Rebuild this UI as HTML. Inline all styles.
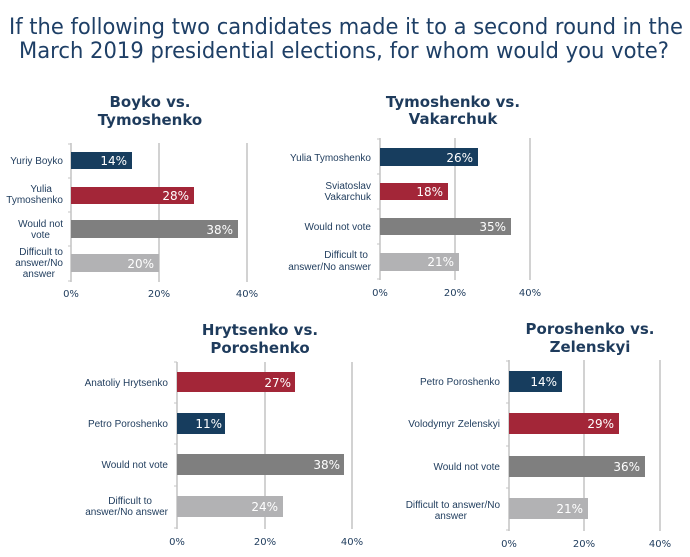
<!DOCTYPE html>
<html><head><meta charset="utf-8"><style>
html,body{margin:0;padding:0;background:#fff;}
svg{display:block;font-family:"DejaVu Sans","Liberation Sans",sans-serif;}
.t{fill:#1e3b5c;font-weight:bold;font-size:15px;text-anchor:middle;}
.l{fill:#1e3b5c;font-size:10px;text-anchor:end;font-family:"Liberation Sans",sans-serif;}
.v{fill:#fff;font-size:12px;text-anchor:end;}
.x{fill:#1e3b5c;font-size:10px;text-anchor:middle;}
.g{stroke:#c4c4c4;stroke-width:1.5;}
</style></head><body>
<svg width="690" height="557" viewBox="0 0 690 557">
<text x="346" y="34" fill="#1e3f66" font-size="22" text-anchor="middle" textLength="674" lengthAdjust="spacingAndGlyphs">If the following two candidates made it to a second round in the</text>
<text x="344" y="58" fill="#1e3f66" font-size="22" text-anchor="middle" textLength="650" lengthAdjust="spacingAndGlyphs">March 2019 presidential elections, for whom would you vote?</text>

<!-- Chart 1 -->
<text class="t" x="150" y="107">Boyko vs.</text>
<text class="t" x="150" y="125">Tymoshenko</text>
<line class="g" x1="71" y1="143" x2="71" y2="282"/>
<line class="g" x1="159" y1="143" x2="159" y2="282"/>
<line class="g" x1="247" y1="143" x2="247" y2="282"/>
<g stroke="#c4c4c4"><line x1="68" y1="144" x2="71" y2="144"/><line x1="68" y1="178" x2="71" y2="178"/><line x1="68" y1="212" x2="71" y2="212"/><line x1="68" y1="246" x2="71" y2="246"/><line x1="68" y1="281" x2="71" y2="281"/></g>
<rect x="71" y="152" width="61" height="17" fill="#173d5e"/>
<rect x="71" y="187" width="123" height="17" fill="#a32638"/>
<rect x="71" y="220" width="167" height="18" fill="#7f7f7f"/>
<rect x="71" y="254" width="88" height="18" fill="#b2b2b4"/>
<text class="v" x="127" y="165">14%</text>
<text class="v" x="189" y="200">28%</text>
<text class="v" x="233" y="234">38%</text>
<text class="v" x="154" y="268">20%</text>
<text class="l" x="63" y="164">Yuriy Boyko</text>
<text class="l" x="52" y="192">Yulia</text><text class="l" x="63" y="203">Tymoshenko</text>
<text class="l" x="63" y="227">Would not</text><text class="l" x="50" y="238">vote</text>
<text class="l" x="63" y="255">Difficult to</text><text class="l" x="63" y="266">answer/No</text><text class="l" x="55" y="277">answer</text>
<text class="x" x="71" y="297">0%</text><text class="x" x="159" y="297">20%</text><text class="x" x="247" y="297">40%</text>

<!-- Chart 2 -->
<text class="t" x="453" y="107">Tymoshenko vs.</text>
<text class="t" x="453" y="124">Vakarchuk</text>
<line class="g" x1="380" y1="138" x2="380" y2="280"/>
<line class="g" x1="455" y1="138" x2="455" y2="280"/>
<line class="g" x1="530" y1="138" x2="530" y2="280"/>
<g stroke="#c4c4c4"><line x1="377" y1="139" x2="380" y2="139"/><line x1="377" y1="174" x2="380" y2="174"/><line x1="377" y1="209" x2="380" y2="209"/><line x1="377" y1="244" x2="380" y2="244"/><line x1="377" y1="279" x2="380" y2="279"/></g>
<rect x="380" y="148" width="98" height="18" fill="#173d5e"/>
<rect x="380" y="183" width="68" height="17" fill="#a32638"/>
<rect x="380" y="218" width="131" height="17" fill="#7f7f7f"/>
<rect x="380" y="253" width="79" height="18" fill="#b2b2b4"/>
<text class="v" x="473" y="162">26%</text>
<text class="v" x="443" y="196">18%</text>
<text class="v" x="506" y="231">35%</text>
<text class="v" x="454" y="266">21%</text>
<text class="l" x="371" y="161">Yulia Tymoshenko</text>
<text class="l" x="371" y="189">Sviatoslav</text><text class="l" x="371" y="200">Vakarchuk</text>
<text class="l" x="368" y="258">Difficult to</text><text class="l" x="371" y="270">answer/No answer</text>
<text class="l" x="371" y="230">Would not vote</text>
<text class="x" x="380" y="296">0%</text><text class="x" x="455" y="296">20%</text><text class="x" x="530" y="296">40%</text>

<!-- Chart 3 -->
<text class="t" x="260" y="335">Hrytsenko vs.</text>
<text class="t" x="260" y="353">Poroshenko</text>
<line class="g" x1="177" y1="362" x2="177" y2="529"/>
<line class="g" x1="265" y1="362" x2="265" y2="529"/>
<line class="g" x1="352" y1="362" x2="352" y2="529"/>
<g stroke="#c4c4c4"><line x1="174" y1="362" x2="177" y2="362"/><line x1="174" y1="403" x2="177" y2="403"/><line x1="174" y1="444" x2="177" y2="444"/><line x1="174" y1="486" x2="177" y2="486"/><line x1="174" y1="528" x2="177" y2="528"/></g>
<rect x="177" y="372" width="118" height="20" fill="#a32638"/>
<rect x="177" y="413" width="48" height="21" fill="#173d5e"/>
<rect x="177" y="454" width="167" height="21" fill="#7f7f7f"/>
<rect x="177" y="496" width="106" height="21" fill="#b2b2b4"/>
<text class="v" x="291" y="387">27%</text>
<text class="v" x="222" y="428">11%</text>
<text class="v" x="340" y="469">38%</text>
<text class="v" x="278" y="511">24%</text>
<text class="l" x="168" y="386">Anatoliy Hrytsenko</text>
<text class="l" x="168" y="427">Petro Poroshenko</text>
<text class="l" x="168" y="468">Would not vote</text>
<text class="l" x="152" y="504">Difficult to</text><text class="l" x="168" y="515">answer/No answer</text>
<text class="x" x="177" y="545">0%</text><text class="x" x="265" y="545">20%</text><text class="x" x="352" y="545">40%</text>

<!-- Chart 4 -->
<text class="t" x="590" y="334">Poroshenko vs.</text>
<text class="t" x="590" y="352">Zelenskyi</text>
<line class="g" x1="509" y1="360" x2="509" y2="531"/>
<line class="g" x1="584" y1="360" x2="584" y2="531"/>
<line class="g" x1="660" y1="360" x2="660" y2="531"/>
<g stroke="#c4c4c4"><line x1="506" y1="361" x2="509" y2="361"/><line x1="506" y1="403" x2="509" y2="403"/><line x1="506" y1="446" x2="509" y2="446"/><line x1="506" y1="488" x2="509" y2="488"/><line x1="506" y1="530" x2="509" y2="530"/></g>
<rect x="509" y="371" width="53" height="21" fill="#173d5e"/>
<rect x="509" y="413" width="110" height="21" fill="#a32638"/>
<rect x="509" y="456" width="136" height="21" fill="#7f7f7f"/>
<rect x="509" y="498" width="79" height="21" fill="#b2b2b4"/>
<text class="v" x="557" y="386">14%</text>
<text class="v" x="614" y="428">29%</text>
<text class="v" x="640" y="471">36%</text>
<text class="v" x="583" y="513">21%</text>
<text class="l" x="500" y="385">Petro Poroshenko</text>
<text class="l" x="500" y="427">Volodymyr Zelenskyi</text>
<text class="l" x="500" y="470">Would not vote</text>
<text class="l" x="500" y="508">Difficult to answer/No</text><text class="l" x="467" y="519">answer</text>
<text class="x" x="509" y="547">0%</text><text class="x" x="584" y="547">20%</text><text class="x" x="660" y="547">40%</text>
</svg>
</body></html>
